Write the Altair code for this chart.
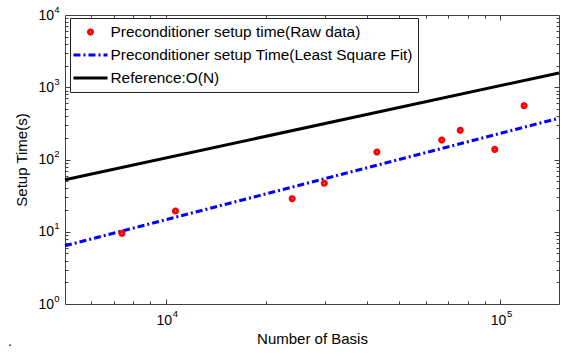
import altair as alt
import pandas as pd

# ---------------- data ----------------
series_names = [
    "Preconditioner setup time(Raw data)",
    "Preconditioner setup Time(Least Square Fit)",
    "Reference:O(N)",
]
series_colors = ["#ff0000", "#0000ff", "#000000"]
raw_n = [7400, 10700, 23900, 29800, 42800, 66900, 76000, 96400, 118000]
raw_t = [9.5, 19.4, 28.7, 47, 127, 186, 254, 138, 556]
fit_n = [5000, 150000]
fit_t = [6.4, 372]
ref_n = [5000, 150000]
ref_t = [52.5, 1575]

x_major = [10000, 100000]
y_major = [1, 10, 100, 1000, 10000]
x_ticks = [6000, 7000, 8000, 9000, 10000, 20000, 30000, 40000, 50000,
           60000, 70000, 80000, 90000, 100000]
y_ticks = [2, 3, 4, 5, 6, 7, 8, 9, 10, 20, 30, 40, 50, 60, 70, 80, 90, 100,
           200, 300, 400, 500, 600, 700, 800, 900, 1000,
           2000, 3000, 4000, 5000, 6000, 7000, 8000, 9000]

raw_df = pd.DataFrame({"N": raw_n, "T": raw_t, "series": series_names[0]})
fit_df = pd.DataFrame({"N": fit_n, "T": fit_t})
ref_df = pd.DataFrame({"N": ref_n, "T": ref_t})

# ---------------- styling ----------------
W, H = 494, 289
FONT = "Liberation Sans"
AXC = "#404040"
DASHDOT = [7, 3, 2, 3]

xscale = alt.Scale(type="log", domain=[5000, 150000], nice=False)
yscale = alt.Scale(type="log", domain=[1, 10000], nice=False)
color_scale = alt.Scale(domain=series_names, range=series_colors)
dash_scale = alt.Scale(domain=series_names, range=[[1, 0], DASHDOT, [1, 0]])
dot = "M-0.27,0A0.27,0.27 0 1,0 0.27,0A0.27,0.27 0 1,0 -0.27,0Z"
bar = "M-2.27,0H2.27"
shape_scale = alt.Scale(domain=series_names, range=[dot, bar, bar])

major_test = "abs(log(datum.value)/LN10 - round(log(datum.value)/LN10)) < 0.001"
tick_len = {"condition": {"test": major_test, "value": 5}, "value": 3}
exp_expr = "'' + round(log(datum.value)/LN10)"

# base "10" labels with axis titles
x_base_axis = alt.Axis(orient="bottom", values=x_major, labelExpr="'10'", ticks=False,
                       domain=False, grid=False, labelPadding=9, labelFontSize=14,
                       labelOffset=-2, labelColor="black", title="Number of Basis",
                       titleFontSize=15, titleFontWeight="normal", titlePadding=4,
                       titleColor="black")
y_base_axis = alt.Axis(orient="left", values=y_major, labelExpr="'10'", ticks=False,
                       domain=False, grid=False, labelPadding=11.5, labelFontSize=14,
                       labelColor="black", title="Setup Time(s)", titleFontSize=15,
                       titleFontWeight="normal", titlePadding=8, titleColor="black")
# exponent labels
x_exp_axis = alt.Axis(orient="bottom", values=x_major, labelExpr=exp_expr, ticks=False,
                      domain=False, grid=False, labelPadding=4, labelFontSize=9.5,
                      labelAlign="left", labelOffset=6.5, labelColor="black", title=None)
y_exp_axis = alt.Axis(orient="left", values=y_major, labelExpr=exp_expr, ticks=False,
                      domain=False, grid=False, labelPadding=6, labelFontSize=9.5,
                      labelOffset=-6, labelColor="black", title=None)


def tick_axis(orient, values, offset):
    return alt.Axis(orient=orient, values=values, offset=offset, labels=False,
                    domain=False, grid=False, ticks=True, tickSize=tick_len,
                    tickColor=AXC, tickWidth=1, title=None)


fit_line = alt.Chart(fit_df).mark_line(strokeWidth=3, color=series_colors[1],
                                       strokeDash=DASHDOT).encode(
    x=alt.X("N:Q", scale=xscale, axis=x_base_axis),
    y=alt.Y("T:Q", scale=yscale, axis=y_base_axis),
)

ref_line = alt.Chart(ref_df).mark_line(strokeWidth=3, color=series_colors[2]).encode(
    x=alt.X("N:Q", scale=xscale, axis=x_exp_axis),
    y=alt.Y("T:Q", scale=yscale, axis=y_exp_axis),
)

points = alt.Chart(raw_df).mark_point(filled=False, strokeWidth=3, size=225, opacity=1).encode(
    x=alt.X("N:Q", scale=xscale, axis=tick_axis("top", x_ticks, -H)),
    y=alt.Y("T:Q", scale=yscale, axis=tick_axis("right", y_ticks, -W)),
    color=alt.Color("series:N", scale=color_scale, legend=alt.Legend(title=None)),
    shape=alt.Shape("series:N", scale=shape_scale, legend=alt.Legend(title=None)),
    strokeDash=alt.StrokeDash("series:N", scale=dash_scale, legend=alt.Legend(title=None)),
)

ghost = alt.Chart(raw_df).mark_point(opacity=0).encode(
    x=alt.X("N:Q", scale=xscale, axis=tick_axis("bottom", x_ticks, -H)),
    y=alt.Y("T:Q", scale=yscale, axis=tick_axis("left", y_ticks, -W)),
)

chart = (
    alt.layer(ref_line, fit_line, points, ghost)
    .resolve_axis(x="independent", y="independent")
    .properties(
        width=W, height=H,
        padding={"left": 65, "top": 15, "right": 4, "bottom": 52},
        autosize=alt.AutoSizeParams(type="none"),
        title=alt.TitleParams(text=".", orient="bottom", anchor="start", frame="group",
                              dx=-57, dy=-11, offset=0, fontSize=14, fontWeight="normal",
                              font=FONT, color="black"),
    )
    .configure_view(stroke=AXC, strokeWidth=1)
    .configure_axis(labelFont=FONT, titleFont=FONT)
    .configure_legend(orient="none", legendX=5, legendY=3, padding=5, rowPadding=5,
                      strokeColor="#222222", fillColor="white", symbolSize=225,
                      symbolOffset=6.5, labelOffset=11, labelFontSize=15.4,
                      labelFont=FONT, labelColor="black", labelLimit=400,
                      symbolStrokeWidth=3)
)

chart.save("out.html", embed_options={"renderer": "svg", "actions": False})
